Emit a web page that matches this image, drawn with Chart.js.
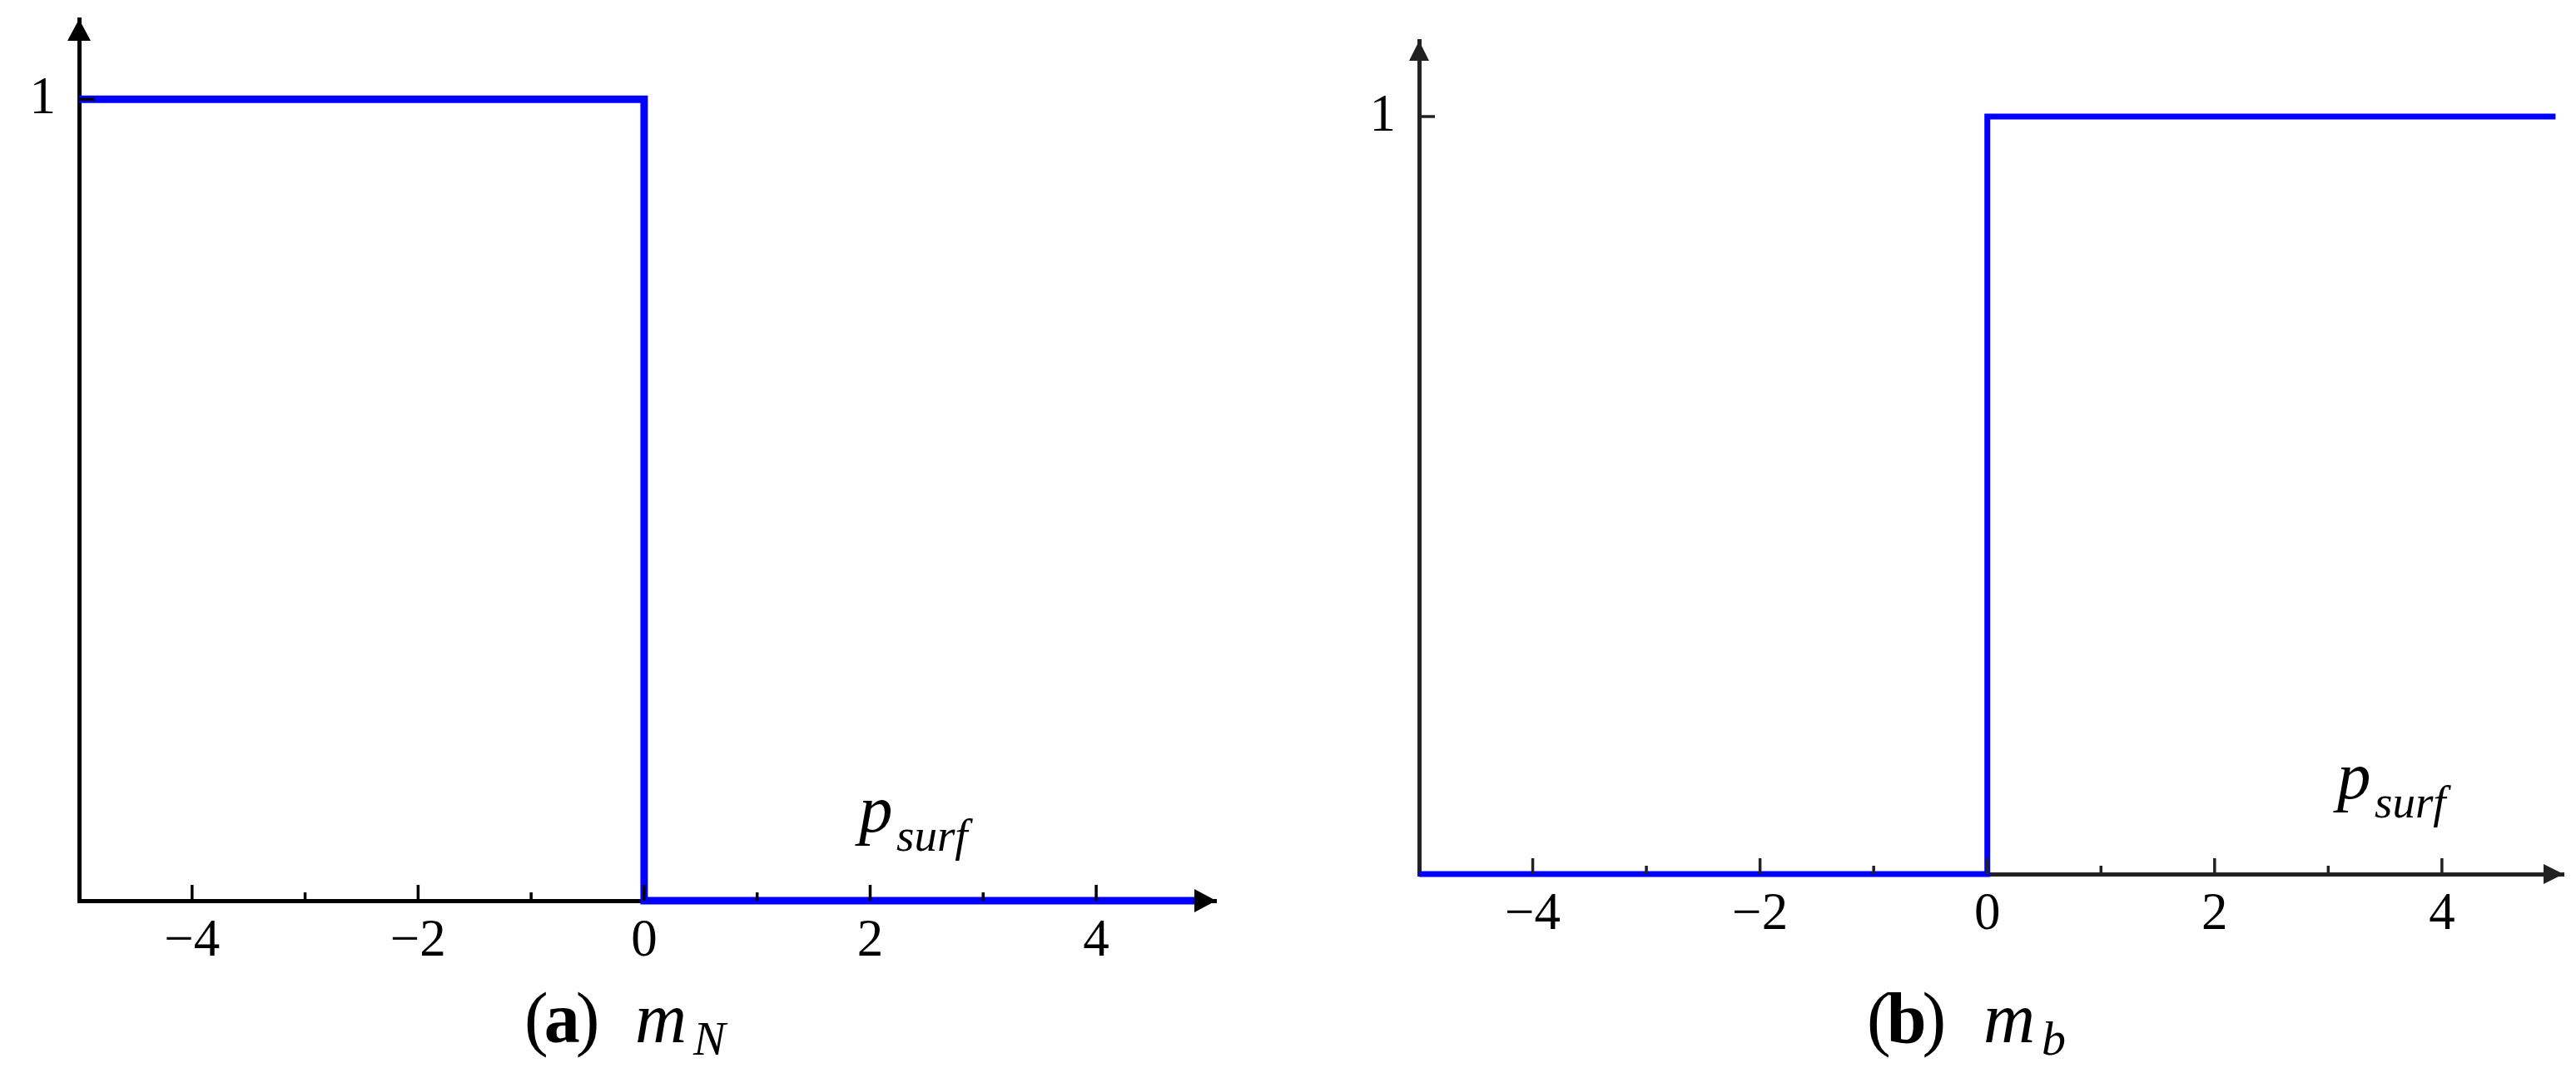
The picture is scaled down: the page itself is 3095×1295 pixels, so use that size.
<!DOCTYPE html>
<html>
<head>
<meta charset="utf-8">
<script src="https://cdn.jsdelivr.net/npm/chart.js@4.4.1/dist/chart.umd.min.js"></script>
<style>
  body { margin: 0; background: #fff; width: 3095px; height: 1295px; overflow: hidden; position: relative;
         font-family: "Liberation Serif", "Times New Roman", serif; }
  canvas { position: absolute; top: 0; }
  .t { position: absolute; line-height: 1; white-space: nowrap; color: #000; }
  .i { font-style: italic; }
</style>
</head>
<body>
<canvas id="chartN" width="1548" height="1295" style="left:0"></canvas>
<canvas id="chartB" width="1547" height="1295" style="left:1548px"></canvas>

<!-- axis names -->
<div class="t i" style="left:1032px;top:932px;font-size:81px">p</div>
<div class="t i" style="left:1077px;top:976px;font-size:55px">surf</div>
<div class="t i" style="left:2808px;top:892px;font-size:81px">p</div>
<div class="t i" style="left:2853px;top:936px;font-size:55px">surf</div>

<!-- captions -->
<div class="t" style="left:630px;top:1180px;font-size:86px;letter-spacing:-5px">(<b>a</b>)</div>
<div class="t i" style="left:763px;top:1180px;font-size:86px">m</div>
<div class="t i" style="left:833px;top:1219px;font-size:58px">N</div>
<div class="t" style="left:2243px;top:1180px;font-size:86px;letter-spacing:-5px">(<b>b</b>)</div>
<div class="t i" style="left:2383px;top:1180px;font-size:86px">m</div>
<div class="t i" style="left:2453px;top:1219px;font-size:58px">b</div>

<script>
// data
const pSurf = [-5, 0, 0, 5];
const mN = [1, 1, 0, 0];
const mB = [0, 0, 1, 1];
const xTicks = [-5, -4, -3, -2, -1, 0, 1, 2, 3, 4, 5];
const xTickLabels = ['', '−4', '', '−2', '', '0', '', '2', '', '4', ''];
const yTicks = [1];
const yTickLabels = ['1'];

// inward ticks and arrow heads
const axisDecor = {
  id: 'axisDecor',
  afterDraw(chart, args, opts) {
    const ctx = chart.ctx, a = chart.chartArea;
    const x = chart.scales.x, y = chart.scales.y;
    ctx.save();
    ctx.strokeStyle = opts.color;
    ctx.fillStyle = opts.color;
    ctx.lineWidth = 3.5;
    xTicks.forEach((v, i) => {
      if (Math.abs(v) === 5) return;
      const px = x.getPixelForValue(v);
      const len = xTickLabels[i] ? 19 : 10;
      ctx.beginPath();
      ctx.moveTo(px, a.bottom);
      ctx.lineTo(px, a.bottom - len);
      ctx.stroke();
    });
    yTicks.forEach(v => {
      const py = y.getPixelForValue(v);
      ctx.beginPath();
      ctx.moveTo(a.left, py);
      ctx.lineTo(a.left + 19, py);
      ctx.stroke();
    });
    const L = opts.arrowLen, W = opts.arrowWidth / 2;
    ctx.beginPath();
    ctx.moveTo(a.left, a.top);
    ctx.lineTo(a.left - W, a.top + L);
    ctx.lineTo(a.left + W, a.top + L);
    ctx.closePath();
    ctx.fill();
    ctx.beginPath();
    ctx.moveTo(a.right, a.bottom);
    ctx.lineTo(a.right - L, a.bottom - W);
    ctx.lineTo(a.right - L, a.bottom + W);
    ctx.closePath();
    ctx.fill();
    ctx.restore();
  }
};

function makeChart(id, values, cfg) {
  const tickFont = { family: 'Liberation Serif', size: 63 };
  return new Chart(document.getElementById(id), {
    type: 'scatter',
    data: {
      datasets: [{
        data: pSurf.map((p, i) => ({ x: p, y: values[i] })),
        showLine: true,
        borderColor: '#0000ff',
        borderWidth: cfg.lineWidth,
        borderJoinStyle: 'miter',
        pointRadius: 0,
        tension: 0,
        fill: false,
        clip: false
      }]
    },
    options: {
      responsive: false,
      devicePixelRatio: 1,
      animation: false,
      layout: { padding: { left: 0, top: cfg.top, right: cfg.right, bottom: 0 } },
      plugins: {
        legend: { display: false },
        tooltip: { enabled: false },
        axisDecor: { color: cfg.axisColor, arrowLen: cfg.arrowLen, arrowWidth: cfg.arrowWidth }
      },
      scales: {
        x: {
          type: 'linear',
          bounds: 'data',
          min: -5,
          max: cfg.xMax,
          grid: { display: false, drawTicks: false },
          border: { display: true, color: cfg.axisColor, width: 5 },
          ticks: {
            autoSkip: false, maxRotation: 0, padding: 12, color: '#000', font: tickFont,
            callback: (v, i) => xTickLabels[i]
          },
          afterBuildTicks: s => { s.ticks = xTicks.map(v => ({ value: v })); },
          afterFit: s => { s.height = cfg.xHeight; s.paddingLeft = 0; s.paddingRight = 0; }
        },
        y: {
          type: 'linear',
          bounds: 'data',
          min: 0,
          max: 1.1,
          grid: { display: false, drawTicks: false },
          border: { display: true, color: cfg.axisColor, width: 5 },
          ticks: {
            padding: 28, color: '#000', font: tickFont,
            callback: (v, i) => yTickLabels[i]
          },
          afterBuildTicks: s => { s.ticks = yTicks.map(v => ({ value: v })); },
          afterFit: s => { s.width = cfg.yWidth; s.paddingTop = 0; s.paddingBottom = 0; }
        }
      }
    },
    plugins: [axisDecor]
  });
}

makeChart('chartN', mN, {
  top: 23, right: 87, xMax: 5.06, xHeight: 213, yWidth: 95,
  lineWidth: 9, axisColor: '#000', arrowLen: 26, arrowWidth: 28
});
makeChart('chartB', mB, {
  top: 49, right: 15, xMax: 5.07, xHeight: 245, yWidth: 157,
  lineWidth: 7, axisColor: '#222', arrowLen: 24, arrowWidth: 24
});
</script>
</body>
</html>
